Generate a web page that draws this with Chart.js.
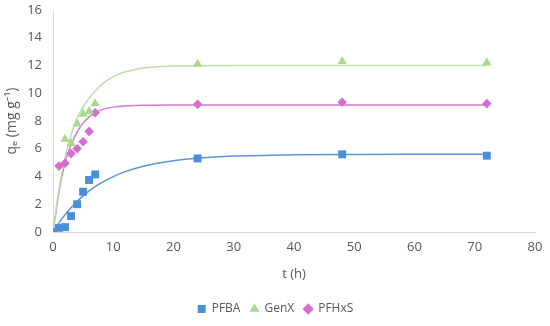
<!DOCTYPE html>
<html>
<head>
<meta charset="utf-8">
<script src="https://cdn.jsdelivr.net/npm/chart.js@4/dist/chart.umd.min.js"></script>
<style>
html,body{margin:0;padding:0;background:#fff;}
#wrap{width:550px;height:326px;}
</style>
</head>
<body>
<div id="wrap"><canvas id="c" width="550" height="326"></canvas></div>
<script>
// Measured data points
const timePFBA  = [0, 1, 2, 3, 4, 5, 6, 7, 24, 48, 72];
const qPFBA     = [0, 0.3, 0.35, 1.15, 2.0, 2.9, 3.75, 4.15, 5.3, 5.6, 5.5];
const timeGenX  = [0, 2, 3, 4, 5, 6, 7, 24, 48, 72];
const qGenX     = [0, 6.7, 6.4, 7.8, 8.5, 8.7, 9.25, 12.1, 12.3, 12.2];
const timePFHxS = [0, 1, 2, 3, 4, 5, 6, 7, 24, 48, 72];
const qPFHxS    = [0, 4.75, 4.95, 5.65, 6.0, 6.5, 7.25, 8.6, 9.2, 9.35, 9.25];

// Fitted curves
const fitTime   = [0, 1, 2, 3, 4, 5, 6, 7, 8, 10, 12, 15, 20, 25, 30, 40, 50, 60, 72];
const fitPFBA   = [0, 0.66, 1.24, 1.75, 2.2, 2.6, 2.96, 3.27, 3.54, 3.99, 4.35, 4.74, 5.14, 5.35, 5.47, 5.56, 5.59, 5.6, 5.6];
const fitGenX   = [0, 3.1, 5.4, 7.0, 8.2, 9.0, 9.65, 10.15, 10.6, 11.2, 11.55, 11.82, 11.96, 11.99, 12.0, 12.0, 12.0, 12.0, 12.0];
const fitPFHxS  = [0, 2.9, 5.0, 6.3, 7.2, 7.85, 8.3, 8.6, 8.8, 9.0, 9.08, 9.13, 9.15, 9.15, 9.15, 9.15, 9.15, 9.15, 9.15];

const xTicks = [0, 10, 20, 30, 40, 50, 60, 70, 80];
const yTicks = [0, 2, 4, 6, 8, 10, 12, 14, 16];

const toXY = (xs, ys) => xs.map((x, i) => ({x: x, y: ys[i]}));

const C_BLUE = '#4A8FDA', C_GREEN = '#A8D98F', C_MAG = '#D66ED0';
const L_BLUE = '#5E94D4', L_GREEN = '#B8E2A6', L_MAG = '#D67ACF';
const FONT = "'Open Sans', 'Noto Sans', sans-serif";
const TXT = '#595959';

const legendShift = {
  id: 'legendShift',
  afterLayout(chart) {
    const lg = chart.legend;
    if (lg) { lg.left += 8; lg.right += 8; }
  }
};

new Chart(document.getElementById('c'), {
  type: 'scatter',
  plugins: [legendShift],
  data: {
    datasets: [
      {label: 'PFBA', data: toXY(timePFBA, qPFBA), pointStyle: 'rect', pointRadius: 5.6,
       backgroundColor: C_BLUE, borderColor: C_BLUE, borderWidth: 0, order: 1},
      {label: 'GenX', data: toXY(timeGenX, qGenX), pointStyle: 'triangle', pointRadius: 5.4,
       backgroundColor: C_GREEN, borderColor: C_GREEN, borderWidth: 0, order: 1},
      {label: 'PFHxS', data: toXY(timePFHxS, qPFHxS), pointStyle: 'rectRot', pointRadius: 4.8,
       backgroundColor: C_MAG, borderColor: C_MAG, borderWidth: 0, order: 1},
      {label: 'fitPFBA', data: toXY(fitTime, fitPFBA), showLine: true, pointRadius: 0,
       borderColor: L_BLUE, borderWidth: 1.5, cubicInterpolationMode: 'monotone', order: 2},
      {label: 'fitGenX', data: toXY(fitTime, fitGenX), showLine: true, pointRadius: 0,
       borderColor: L_GREEN, borderWidth: 1.5, cubicInterpolationMode: 'monotone', order: 2},
      {label: 'fitPFHxS', data: toXY(fitTime, fitPFHxS), showLine: true, pointRadius: 0,
       borderColor: L_MAG, borderWidth: 1.5, cubicInterpolationMode: 'monotone', order: 2}
    ]
  },
  options: {
    responsive: false,
    animation: false,
    layout: {padding: {top: 10, right: 15, bottom: 1, left: 0}},
    plugins: {
      tooltip: {enabled: false},
      legend: {
        position: 'bottom',
        labels: {
          filter: (item) => item.datasetIndex < 3,
          usePointStyle: true,
          boxWidth: 8, boxHeight: 8,
          padding: 10,
          color: TXT,
          font: {family: FONT, size: 12}
        }
      }
    },
    scales: {
      x: {
        type: 'linear', min: 0, max: 80,
        afterBuildTicks: (s) => { s.ticks = xTicks.map(v => ({value: v})); },
        afterFit: (s) => { s.height = 61; },
        grid: {display: true, color: 'rgba(0,0,0,0)', drawTicks: false},
        border: {display: true, color: '#D9D9D9', width: 1},
        ticks: {color: TXT, font: {family: FONT, size: 13}, padding: 7, maxRotation: 0},
        title: {display: true, text: 't (h)', color: TXT, font: {family: FONT, size: 13}, padding: {top: 4, bottom: 11}}
      },
      y: {
        type: 'linear', min: 0, max: 16,
        afterBuildTicks: (s) => { s.ticks = yTicks.map(v => ({value: v})); },
        afterFit: (s) => { s.width = 53; s.paddingTop = 0; s.paddingBottom = 0; },
        grid: {display: true, color: 'rgba(0,0,0,0)', drawTicks: false},
        border: {display: true, color: '#D9D9D9', width: 1},
        ticks: {color: TXT, font: {family: FONT, size: 13}, padding: 11},
        title: {display: true, text: 'qₑ (mg g⁻¹)', color: TXT, font: {family: FONT, size: 14}, padding: {top: 4, bottom: 0}}
      }
    }
  }
});
</script>
</body>
</html>
